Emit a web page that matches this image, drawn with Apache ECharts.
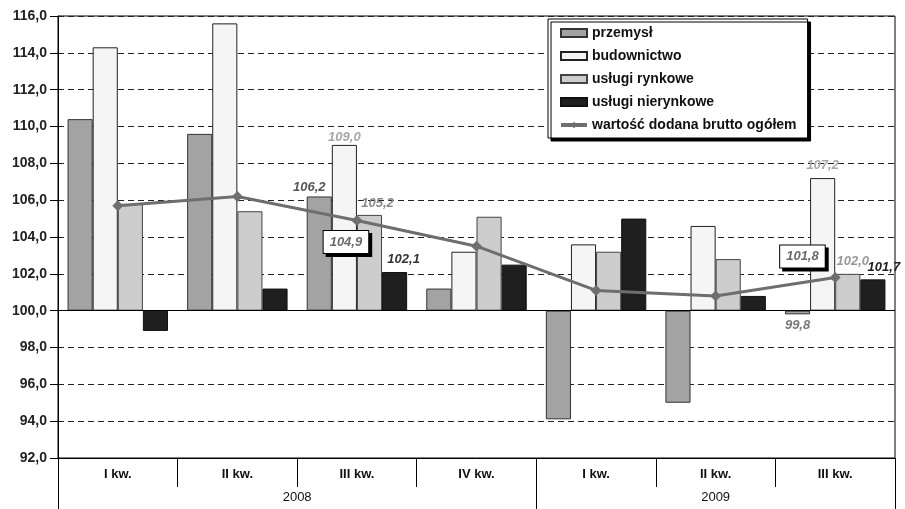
<!DOCTYPE html>
<html>
<head>
<meta charset="utf-8">
<script src="https://cdn.jsdelivr.net/npm/echarts@6/dist/echarts.min.js"></script>
<style>
  html, body { margin: 0; padding: 0; background: #fff; }
  #chart { width: 905px; height: 509px; }
</style>
</head>
<body>
<div id="chart"></div>
<script>
// Dynamika wartości dodanej brutto (analogiczny okres roku poprzedniego = 100)
const categories = ['I kw.', 'II kw.', 'III kw.', 'IV kw.', 'I kw.', 'II kw.', 'III kw.'];
const years = ['2008', '2009'];
const yearStart = [0, 4];          // index of first quarter of each year
const yearLength = [4, 3];         // quarters shown per year

const przemysl         = [110.4, 109.6, 106.2, 101.2, 94.1, 95.0, 99.8];
const budownictwo      = [114.3, 115.6, 109.0, 103.2, 103.6, 104.6, 107.2];
const uslugiRynkowe    = [105.8, 105.4, 105.2, 105.1, 103.2, 102.8, 102.0];
const uslugiNierynkowe = [98.9, 101.2, 102.1, 102.5, 105.0, 100.8, 101.7];
const wartoscDodana    = [105.7, 106.2, 104.9, 103.5, 101.1, 100.8, 101.8];

const labelledQuarters = [2, 6];   // quarters with value labels

// index base: bars grow from 100
const BASE = 100;
const yMin = 92, yMax = 116, yStep = 2;

const fmt = v => v.toFixed(1).replace('.', ',');
const FONT = 'Liberation Sans, Arial, sans-serif';
const NARROW = 'Liberation Sans Narrow, Liberation Sans, Arial, sans-serif';

// per-series, per-labelled-quarter label styling
function withLabels(values, styles) {
  return values.map((v, i) => {
    const k = labelledQuarters.indexOf(i);
    if (k < 0) return v - BASE;
    return {
      value: v - BASE,
      label: Object.assign({
        show: true,
        fontFamily: FONT,
        fontSize: 13,
        fontWeight: 'bold',
        fontStyle: 'italic',
        formatter: () => fmt(v)
      }, styles[k])
    };
  });
}

const boxLabel = {
  backgroundColor: '#fff',
  borderColor: '#000',
  borderWidth: 1,
  padding: [5, 6, 4, 6],
  shadowColor: '#000',
  shadowBlur: 0,
  shadowOffsetX: 3,
  shadowOffsetY: 3,
  color: '#6a6a6a'
};

const barBase = {
  type: 'bar',
  barGap: '0%',
  barCategoryGap: '16%',
  xAxisIndex: 0
};

const chart = echarts.init(document.getElementById('chart'), null, { renderer: 'canvas' });

chart.setOption({
  backgroundColor: '#fff',
  animation: false,
  grid: {
    left: 58, right: 10, top: 16, bottom: 51,
    show: true, borderColor: '#000', borderWidth: 1, backgroundColor: 'transparent'
  },
  legend: {
    orient: 'vertical',
    left: 548, top: 19,
    padding: [7, 11, 6, 11],
    itemGap: 9,
    itemWidth: 26,
    itemHeight: 8,
    backgroundColor: '#fff',
    borderColor: '#000',
    borderWidth: 1,
    shadowColor: '#000',
    shadowBlur: 0,
    shadowOffsetX: 3,
    shadowOffsetY: 3,
    textStyle: { fontFamily: FONT, fontSize: 14, fontWeight: 'bold', color: '#111', lineHeight: 14 },
    data: [
      { name: 'przemysł', icon: 'rect' },
      { name: 'budownictwo', icon: 'rect' },
      { name: 'usługi rynkowe', icon: 'rect' },
      { name: 'usługi nierynkowe', icon: 'rect' },
      { name: 'wartość dodana brutto ogółem', lineStyle: { width: 4, color: '#6e6e6e' } }
    ]
  },
  xAxis: [
    {
      type: 'category',
      data: categories,
      position: 'bottom',
      boundaryGap: true,
      axisLine: { show: true, onZero: false, lineStyle: { color: '#000', width: 1 } },
      axisTick: { show: true, interval: 0, length: 29, lineStyle: { color: '#000' } },
      axisLabel: { interval: 0, margin: 10, fontFamily: NARROW, fontSize: 13, fontWeight: 'bold', color: '#111' },
      splitLine: { show: false }
    },
    {
      type: 'value',
      min: 0, max: categories.length,
      position: 'bottom',
      offset: 0,
      axisLine: { show: false, onZero: false },
      axisTick: {
        show: true, length: 51, lineStyle: { color: '#000' },
        customValues: [0, yearStart[1], categories.length]
      },
      axisLabel: {
        margin: 33,
        fontFamily: NARROW, fontSize: 13, color: '#111',
        customValues: yearStart.map((s, i) => s + yearLength[i] / 2),
        formatter: v => years[yearStart.findIndex((s, i) => Math.abs(s + yearLength[i] / 2 - v) < 1e-6)]
      },
      splitLine: { show: false }
    }
  ],
  yAxis: {
    type: 'value',
    min: yMin - BASE, max: yMax - BASE, interval: yStep,
    axisLine: { show: true, lineStyle: { color: '#000' } },
    axisTick: { show: true, length: 8, lineStyle: { color: '#000' } },
    axisLabel: {
      margin: 11,
      fontFamily: FONT, fontSize: 14, fontWeight: 'bold', color: '#222',
      formatter: v => fmt(v + BASE)
    },
    splitLine: { show: true, lineStyle: { color: '#222', type: [6, 4], width: 1 } }
  },
  series: [
    Object.assign({}, barBase, {
      name: 'przemysł',
      itemStyle: { color: '#a3a3a3', borderColor: '#333', borderWidth: 1 },
      data: withLabels(przemysl, [
        { position: 'top', distance: 3, offset: [-10, 0], color: '#555' },
        { position: 'bottom', distance: 5, color: '#777' }
      ])
    }),
    Object.assign({}, barBase, {
      name: 'budownictwo',
      itemStyle: { color: '#f5f5f5', borderColor: '#222', borderWidth: 1 },
      data: withLabels(budownictwo, [
        { position: 'top', distance: 1, color: '#a8a8a8' },
        { position: 'top', distance: 6, color: '#a8a8a8' }
      ])
    }),
    Object.assign({}, barBase, {
      name: 'usługi rynkowe',
      itemStyle: { color: '#cdcdcd', borderColor: '#444', borderWidth: 1 },
      data: withLabels(uslugiRynkowe, [
        { position: 'top', distance: 5, offset: [8, 0], color: '#8a8a8a' },
        { position: 'top', distance: 6, offset: [5, 0], color: '#999' }
      ])
    }),
    Object.assign({}, barBase, {
      name: 'usługi nierynkowe',
      itemStyle: { color: '#1f1f1f', borderColor: '#111', borderWidth: 1 },
      data: withLabels(uslugiNierynkowe, [
        { position: 'top', distance: 6, offset: [9, 0], color: '#333' },
        { position: 'top', distance: 5, offset: [11, 0], color: '#222' }
      ]),
      markLine: {
        silent: true,
        symbol: 'none',
        label: { show: false },
        lineStyle: { color: '#000', type: 'solid', width: 1 },
        data: [{ yAxis: 0 }]
      }
    }),
    {
      type: 'line',
      name: 'wartość dodana brutto ogółem',
      z: 5,
      symbol: 'diamond',
      symbolSize: 11,
      lineStyle: { color: '#6e6e6e', width: 3 },
      itemStyle: { color: '#6e6e6e' },
      data: withLabels(wartoscDodana, [
        Object.assign({ position: 'bottom', distance: 5, offset: [-11, 0] }, boxLabel),
        Object.assign({ position: 'left', distance: 5, offset: [0, -21] }, boxLabel)
      ])
    }
  ]
});
</script>
</body>
</html>
